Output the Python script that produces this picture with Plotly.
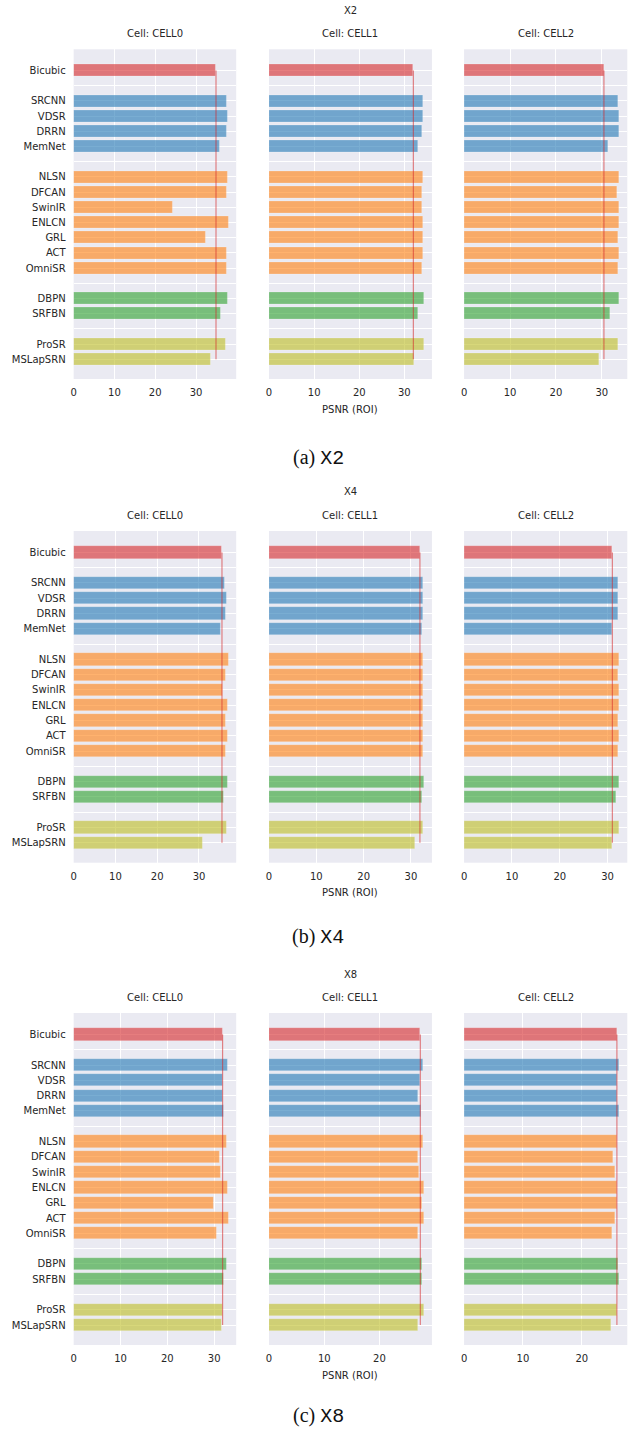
import plotly.graph_objects as go

# ---------------- data ----------------
methods = ["Bicubic", "SRCNN", "VDSR", "DRRN", "MemNet",
           "NLSN", "DFCAN", "SwinIR", "ENLCN", "GRL", "ACT", "OmniSR",
           "DBPN", "SRFBN", "ProSR", "MSLapSRN"]
method_groups = ["interp",
                 "cnn", "cnn", "cnn", "cnn",
                 "attn", "attn", "attn", "attn", "attn", "attn", "attn",
                 "backproj", "backproj",
                 "progressive", "progressive"]
group_colors = {"interp": (214, 39, 40), "cnn": (31, 119, 180),
                "attn": (255, 127, 14), "backproj": (44, 160, 44),
                "progressive": (188, 189, 34)}

scales = ["X2", "X4", "X8"]
cells = ["CELL0", "CELL1", "CELL2"]
caption_tags = ["(a)", "(b)", "(c)"]

psnr_x2_cell0 = [34.9, 37.5, 37.7, 37.5, 35.7, 37.8, 37.5, 24.3, 37.95, 32.4, 37.5, 37.6, 37.8, 36.1, 37.3, 33.7]
psnr_x2_cell1 = [32.0, 34.15, 34.15, 34.0, 33.05, 34.15, 34.0, 34.0, 34.15, 34.15, 34.2, 34.0, 34.4, 33.05, 34.4, 32.2]
psnr_x2_cell2 = [30.45, 33.55, 33.7, 33.7, 31.4, 33.85, 33.3, 33.7, 33.85, 33.5, 33.7, 33.6, 33.7, 31.75, 33.5, 29.4]

psnr_x4_cell0 = [35.5, 36.1, 36.7, 36.4, 35.1, 37.05, 36.35, 35.55, 36.9, 36.35, 36.8, 36.4, 36.9, 36.0, 36.7, 30.8]
psnr_x4_cell1 = [31.9, 32.6, 32.55, 32.55, 32.3, 32.6, 32.55, 32.6, 32.6, 32.6, 32.6, 32.55, 32.8, 32.4, 32.6, 30.9]
psnr_x4_cell2 = [31.0, 32.15, 32.15, 32.15, 30.9, 32.5, 32.1, 32.4, 32.4, 32.2, 32.4, 32.2, 32.4, 31.7, 32.4, 30.9]

psnr_x8_cell0 = [31.8, 32.9, 31.8, 31.8, 32.0, 32.6, 31.2, 31.4, 32.85, 29.8, 33.05, 30.6, 32.7, 32.1, 31.85, 31.7]
psnr_x8_cell1 = [27.4, 27.9, 27.4, 27.0, 27.45, 27.85, 27.0, 27.2, 28.0, 27.75, 28.0, 27.0, 27.7, 27.7, 28.1, 27.0]
psnr_x8_cell2 = [25.95, 26.4, 26.0, 26.0, 26.25, 26.0, 25.3, 25.6, 26.0, 26.0, 25.6, 25.1, 26.2, 26.25, 26.0, 24.9]

psnr_table = [[psnr_x2_cell0, psnr_x2_cell1, psnr_x2_cell2],
              [psnr_x4_cell0, psnr_x4_cell1, psnr_x4_cell2],
              [psnr_x8_cell0, psnr_x8_cell1, psnr_x8_cell2]]

# ---------------- layout helpers ----------------
W, H = 630, 1433
TEXT = "#262626"
FONT = "DejaVu Sans"

# slot positions: one empty slot between groups
slots = []
pos = -1
for i, g in enumerate(method_groups):
    if i > 0 and g != method_groups[i - 1]:
        pos += 2
    else:
        pos += 1
    slots.append(pos)
n_slots = slots[-1] + 1
slot_labels = [""] * n_slots
for m, s in zip(methods, slots):
    slot_labels[s] = m

col_px = [(71.0, 234.3), (267.3, 431.0), (463.3, 627.3)]
panel_top_px = [49.3, 531.0, 1013.0]
panel_bot_px = [379.0, 862.7, 1345.0]
caption_px = [458.0, 937.0, 1416.0]


def fx(px):
    return px / W


def fy(px):
    return 1 - px / H


fig = go.Figure()
annotations = []

for p in range(3):
    for c in range(3):
        k = p * 3 + c + 1
        xa = f"x{k}" if k > 1 else "x"
        ya = f"y{k}" if k > 1 else "y"
        vals = psnr_table[p][c]
        colors = []
        for g in method_groups:
            r, gg, b = group_colors[g]
            colors.append(f"rgba({r},{gg},{b},0.6)")
        fig.add_trace(go.Bar(
            x=vals, y=slots, orientation="h", width=0.8,
            marker=dict(color=colors, line=dict(width=0.6, color="rgba(255,255,255,0.35)")),
            xaxis=xa, yaxis=ya, showlegend=False, hoverinfo="skip"))
        bic = vals[0]
        fig.add_trace(go.Scatter(
            x=[bic, bic], y=[slots[0], slots[-1]], mode="lines",
            line=dict(color="rgba(214,39,40,0.55)", width=1.2),
            xaxis=xa, yaxis=ya, showlegend=False, hoverinfo="skip"))

        xkey = "xaxis" if k == 1 else f"xaxis{k}"
        ykey = "yaxis" if k == 1 else f"yaxis{k}"
        fig.layout[xkey] = dict(
            type="linear",
            domain=[fx(col_px[c][0]), fx(col_px[c][1])],
            anchor=ya, range=[0, max(vals) * 1.05],
            tick0=0, dtick=10, showgrid=True, gridcolor="white", gridwidth=1.2,
            zeroline=False, showline=False, ticks="",
            ticklabelstandoff=6,
            tickfont=dict(family=FONT, size=10, color=TEXT))
        fig.layout[ykey] = dict(
            type="linear",
            domain=[fy(panel_bot_px[p]), fy(panel_top_px[p])],
            anchor=xa, range=[n_slots - 1 + 1.3, -1.4],
            tickmode="array", tickvals=list(range(n_slots)), ticktext=slot_labels,
            showticklabels=(c == 0), ticklabelstandoff=7,
            showgrid=True, gridcolor="white", gridwidth=1.2,
            zeroline=False, showline=False, ticks="",
            tickfont=dict(family=FONT, size=10, color=TEXT))

        annotations.append(dict(
            text=f"Cell: {cells[c]}", xref="paper", yref="paper",
            x=fx((col_px[c][0] + col_px[c][1]) / 2), y=fy(panel_top_px[p] - 16),
            xanchor="center", yanchor="middle", showarrow=False,
            font=dict(family=FONT, size=10, color=TEXT)))

    mid = fx((col_px[1][0] + col_px[1][1]) / 2)
    annotations.append(dict(
        text=scales[p], xref="paper", yref="paper", x=mid,
        y=fy(panel_top_px[p] - 39), xanchor="center", yanchor="middle",
        showarrow=False, font=dict(family=FONT, size=10, color=TEXT)))
    annotations.append(dict(
        text="PSNR (ROI)", xref="paper", yref="paper", x=mid,
        y=fy(panel_bot_px[p] + 30), xanchor="center", yanchor="middle",
        showarrow=False, font=dict(family=FONT, size=10, color=TEXT)))
    annotations.append(dict(
        text=f"{caption_tags[p]} <span style='font-family:Liberation Mono'>{scales[p]}</span>",
        xref="paper", yref="paper", x=fx(317),
        y=fy(caption_px[p]), xanchor="center", yanchor="middle",
        showarrow=False, font=dict(family="Liberation Serif", size=20, color="#111111")))

fig.update_layout(
    width=W, height=H, margin=dict(l=0, r=0, t=0, b=0),
    paper_bgcolor="white", plot_bgcolor="#eaeaf2",
    bargap=0, annotations=annotations)

fig.write_html(
    "out.html",
    config={"displayModeBar": False},
    post_script="document.body.style.margin='0';document.body.style.padding='0';"
                "document.documentElement.style.overflow='hidden';")
